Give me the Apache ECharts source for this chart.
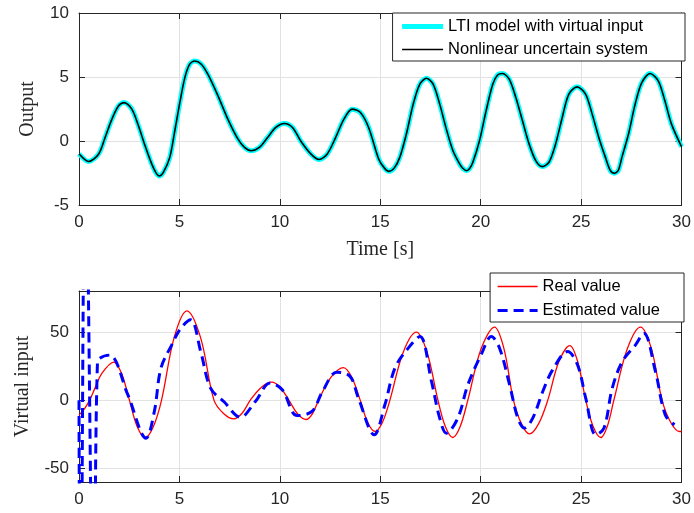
<!DOCTYPE html>
<html><head><meta charset="utf-8">
<script src="https://cdn.jsdelivr.net/npm/echarts@6/dist/echarts.min.js"></script>
<style>html,body{margin:0;padding:0;background:#fff}#c{width:694px;height:513px}</style>
</head><body><div id="c"></div>
<script>
// ---- data ----
const timeOut = [0, 0.48, 0.98, 1.3, 1.64, 1.97, 2.25, 2.63, 2.96, 3.29, 3.62, 3.82, 4.0, 4.2, 4.52, 4.77, 5.02, 5.27, 5.51, 5.76, 6.09, 6.42, 6.92, 7.41, 7.91, 8.24, 8.57, 8.98, 9.39, 9.8, 10.22, 10.63, 11.04, 11.54, 11.95, 12.36, 12.78, 13.19, 13.6, 14.01, 14.42, 14.92, 15.2, 15.43, 15.7, 15.97, 16.3, 16.64, 16.97, 17.3, 17.63, 17.96, 18.29, 18.62, 18.95, 19.12, 19.29, 19.45, 19.61, 19.94, 20.27, 20.6, 20.84, 21.09, 21.42, 21.75, 22.08, 22.41, 22.74, 23.07, 23.4, 23.73, 24.06, 24.39, 24.8, 25.22, 25.55, 25.88, 26.21, 26.45, 26.65, 26.85, 27.03, 27.36, 27.69, 28.02, 28.43, 28.84, 29.17, 29.5, 30];
const ltiOut = [-1.0, -1.6, -1.01, 0.28, 1.71, 2.75, 3.0, 2.49, 1.19, -0.37, -1.79, -2.45, -2.73, -2.45, -1.28, 0.8, 3.0, 4.95, 6.0, 6.25, 6.0, 5.2, 3.53, 1.71, 0.16, -0.5, -0.76, -0.5, 0.28, 1.06, 1.37, 1.06, 0.0, -1.01, -1.45, -1.01, 0.28, 1.71, 2.49, 2.23, 1.06, -1.4, -2.1, -2.37, -2.1, -1.28, 0.55, 2.88, 4.44, 4.9, 4.44, 2.88, 0.93, -0.76, -1.79, -2.15, -2.32, -2.15, -1.66, 0.02, 2.36, 4.44, 5.16, 5.27, 4.83, 3.4, 1.58, -0.23, -1.53, -2.0, -1.66, -0.23, 1.84, 3.66, 4.23, 3.66, 2.1, 0.28, -1.28, -2.3, -2.52, -2.3, -1.28, 0.55, 2.88, 4.56, 5.27, 4.7, 3.14, 1.32, -0.45];
const nonlinOut = ltiOut.slice();

const timeReal = [0, 0.27, 0.53, 0.8, 1.13, 1.73, 2.12, 2.51, 2.9, 3.30, 3.7, 4.11, 4.74, 5.37, 6.05, 6.72, 7.21, 7.71, 8.12, 8.53, 9.07, 9.6, 10.02, 10.45, 10.88, 11.31, 11.62, 11.93, 12.55, 13.17, 13.58, 14.0, 14.37, 14.74, 15.11, 15.48, 16.14, 16.8, 17.33, 17.87, 18.24, 18.61, 18.98, 19.36, 20.02, 20.69, 21.16, 21.63, 22.03, 22.43, 22.88, 23.34, 23.89, 24.44, 24.83, 25.23, 25.6, 25.98, 26.3, 26.63, 27.3, 27.96, 28.5, 29.03, 29.45, 29.9, 30];
const realValue = [-11, -6.4, 0, 9, 19.5, 27.9, 19.5, 0, -19.5, -27.4, -19.5, 0, 46, 65.5, 46, 0, -10, -13.7, -9.6, 0, 9.3, 13.2, 9.3, 0, -10, -14.2, -10, 0, 16.8, 23.9, 16.8, 0, -16.2, -23.0, -16.2, 0, 35, 49.8, 35, 0, -19.3, -27.4, -19.3, 0, 37.6, 53.5, 37.6, 0, -17.4, -24.7, -17.4, 0, 28.1, 40.0, 28.1, 0, -19.3, -27.4, -19.3, 0, 37.6, 53.5, 37.6, 0, -16, -23.0, -23.0];

const timeEst = [0, 0.07, 0.32, 0.75, 0.92, 1.52, 2.43, 3.34, 3.75, 4.08, 4.6, 5.07, 5.56, 6.06, 6.55, 7.21, 8.04, 8.78, 9.52, 10.12, 10.86, 11.6, 12.1, 12.84, 13.5, 13.91, 14.7, 15.23, 15.73, 16.39, 16.97, 17.55, 17.96, 18.29, 18.86, 19.36, 20.02, 20.53, 20.94, 21.44, 21.85, 22.18, 22.59, 23.09, 23.58, 24.33, 24.82, 25.23, 25.73, 26.14, 26.55, 27.05, 27.71, 28.12, 28.7, 29.19, 29.65];
const estValue = [0, -200, 200, -200, 28, 33, 4, -27.9, -8.3, 23.5, 40, 52.8, 58.9, 35.6, 8.8, -1, -12.5, -1, 12.5, 7.6, -11.3, -8.3, 5.6, 20.5, 17.3, 1.5, -25.4, -3.4, 23.5, 38.1, 46.6, 13.7, -13.2, -24.2, -13.2, 11.2, 33.2, 46.6, 38.1, 11.2, -13.2, -20.5, -13.2, 6.3, 22.2, 35.6, 25.9, 1.5, -25.4, -20.5, 8.8, 28.3, 40.5, 49.1, 21.0, -10.8, -18.1];

const xTickValues = [0, 5, 10, 15, 20, 25, 30];
const yTopTickValues = [-5, 0, 5, 10];
const yBottomTickValues = [-50, 0, 50];
const seriesNames = ['LTI model with virtual input', 'Nonlinear uncertain system', 'Real value', 'Estimated value'];

// ---- styling ----
const AX = '#262626';
const GRIDC = '#e2e2e2';
const tickFont = {color: AX, fontSize: 17, fontFamily: 'Liberation Sans, Arial, sans-serif'};
const nameFont = {color: AX, fontSize: 20, fontFamily: 'Liberation Serif, Times New Roman, serif'};
const zip = (a, b) => a.map((v, i) => [v, b[i]]);

function xAx(grid, pos, showLabel, name) {
  return {
    type: 'value', gridIndex: grid, position: pos, min: xTickValues[0], max: xTickValues[xTickValues.length - 1], interval: 5,
    axisLine: {show: true, onZero: false, lineStyle: {color: AX, width: 1}},
    axisTick: {show: true, inside: true, length: 6, lineStyle: {color: AX}},
    axisLabel: Object.assign({show: showLabel, margin: 9}, tickFont),
    splitLine: {show: pos === 'bottom', lineStyle: {color: GRIDC, width: 1}},
    name: name || '', nameLocation: 'middle', nameGap: 35, nameTextStyle: nameFont
  };
}
function yAx(grid, pos, min, max, interval, custom, showLabel, name, gap) {
  const a = {
    type: 'value', gridIndex: grid, position: pos, min: min, max: max,
    axisLine: {show: true, onZero: false, lineStyle: {color: AX, width: 1}},
    axisTick: {show: true, inside: true, length: 6, lineStyle: {color: AX}},
    axisLabel: Object.assign({show: showLabel, margin: 10}, tickFont),
    splitLine: {show: pos === 'left', lineStyle: {color: GRIDC, width: 1}},
    name: name || '', nameLocation: 'middle', nameRotate: 90, nameGap: gap || 40, nameTextStyle: nameFont
  };
  if (interval) a.interval = interval;
  if (custom) { a.axisTick.customValues = custom; a.axisLabel.customValues = custom; }
  return a;
}
const legendText = {color: '#000', fontSize: 16.5, fontFamily: 'Liberation Sans, Arial, sans-serif'};
const hiddenSymbol = {opacity: 0, color: 'rgba(0,0,0,0)', borderWidth: 0};

const chart = echarts.init(document.getElementById('c'), null, {renderer: 'canvas'});
chart.setOption({
  animation: false,
  backgroundColor: '#fff',
  grid: [
    {left: 79, top: 13, width: 606, height: 192},
    {left: 79, top: 291, width: 606, height: 191}
  ],
  xAxis: [
    xAx(0, 'bottom', true, 'Time [s]'),
    xAx(0, 'top', false),
    xAx(1, 'bottom', true),
    xAx(1, 'top', false)
  ],
  yAxis: [
    yAx(0, 'left', yTopTickValues[0], yTopTickValues[3], 5, null, true, 'Output', 41),
    yAx(0, 'right', yTopTickValues[0], yTopTickValues[3], 5, null, false),
    yAx(1, 'left', -60, 80, null, yBottomTickValues, true, 'Virtual input', 46),
    yAx(1, 'right', -60, 80, null, yBottomTickValues, false)
  ],
  legend: [
    {
      data: [
        {name: seriesNames[0], lineStyle: {width: 5, color: '#00ffff'}},
        {name: seriesNames[1], lineStyle: {width: 1.6, color: '#000000'}}
      ],
      orient: 'vertical', right: 9, top: 13,
      itemWidth: 41, itemHeight: 14, itemGap: 6, padding: [5, 37, 3, 7],
      borderColor: AX, borderWidth: 1, backgroundColor: '#fff', selectedMode: false,
      itemStyle: hiddenSymbol, textStyle: legendText
    },
    {
      data: [
        {name: seriesNames[2], lineStyle: {width: 1.3, color: '#ff0000'}},
        {name: seriesNames[3], lineStyle: {width: 3, color: '#0000ff', type: [10, 6]}}
      ],
      orient: 'vertical', right: 10, top: 273,
      itemWidth: 40, itemHeight: 14, itemGap: 7, padding: [5, 24, 3, 6],
      borderColor: AX, borderWidth: 1, backgroundColor: '#fff', selectedMode: false,
      itemStyle: hiddenSymbol, textStyle: legendText
    }
  ],
  series: [
    {name: seriesNames[0], type: 'line', xAxisIndex: 0, yAxisIndex: 0, data: zip(timeOut, ltiOut),
     smooth: 0.3, symbol: 'none', lineStyle: {color: '#00ffff', width: 5}, itemStyle: {color: '#00ffff'}},
    {name: seriesNames[1], type: 'line', xAxisIndex: 0, yAxisIndex: 0, data: zip(timeOut, nonlinOut),
     smooth: 0.3, symbol: 'none', lineStyle: {color: '#000000', width: 1.6}, itemStyle: {color: '#000000'}},
    {name: seriesNames[2], type: 'line', xAxisIndex: 2, yAxisIndex: 2, data: zip(timeReal, realValue),
     smooth: 0.35, symbol: 'none', lineStyle: {color: '#ff0000', width: 1.3}, itemStyle: {color: '#ff0000'}},
    {name: seriesNames[3], type: 'line', xAxisIndex: 2, yAxisIndex: 2, data: zip(timeEst, estValue),
     smooth: 0.35, symbol: 'none', lineStyle: {color: '#0000ff', width: 3, type: [10, 6]}, itemStyle: {color: '#0000ff'}}
  ]
});
</script>
</body></html>
